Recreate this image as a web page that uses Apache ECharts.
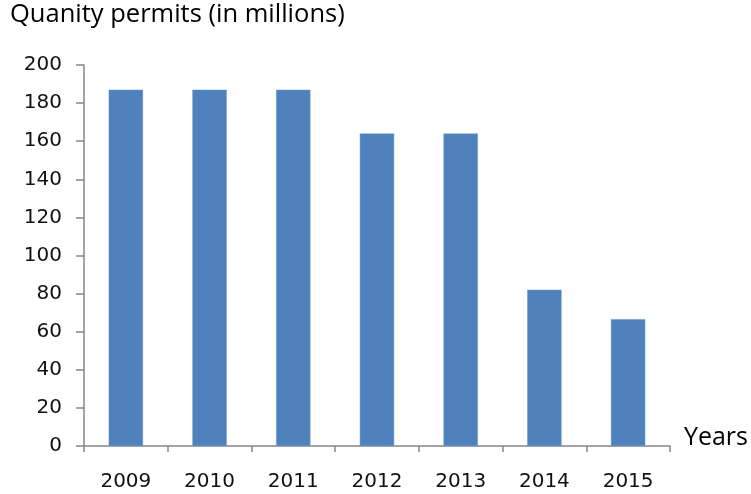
<!DOCTYPE html>
<html>
<head>
<meta charset="utf-8">
<script src="https://cdn.jsdelivr.net/npm/echarts@6/dist/echarts.min.js"></script>
<style>
  html, body { margin: 0; padding: 0; background: #fff; }
  #chart { width: 751px; height: 494px; }
</style>
</head>
<body>
<div id="chart"></div>
<script>
// Permit quantities per year, in millions
const years = ['2009', '2010', '2011', '2012', '2013', '2014', '2015'];
const permits = [187, 187, 187, 164, 164, 82, 66.5];
const yTicks = { min: 0, max: 200, step: 20 };

const axisGray = '#868686';
const chart = echarts.init(document.getElementById('chart'));
chart.setOption({
  animation: false,
  title: {
    text: 'Quanity permits (in millions)',
    left: 10,
    top: 2,
    padding: 0,
    textStyle: { fontFamily: 'Open Sans', fontSize: 25.5, fontWeight: 'normal', color: '#000' }
  },
  grid: { left: 84, right: 77, top: 65, bottom: 48 },
  xAxis: {
    type: 'category',
    data: years,
    name: 'Years',
    nameLocation: 'end',
    nameGap: 14,
    nameTextStyle: {
      fontFamily: 'Open Sans', fontSize: 25, color: '#000',
      verticalAlign: 'bottom', lineHeight: 17
    },
    axisLine: { lineStyle: { color: axisGray, width: 1.5 } },
    axisTick: { show: true, alignWithLabel: false, length: 6, lineStyle: { color: axisGray, width: 1.5 } },
    axisLabel: { fontFamily: 'DejaVu Sans', fontSize: 20, color: '#111', margin: 26 }
  },
  yAxis: {
    type: 'value',
    min: yTicks.min,
    max: yTicks.max,
    interval: yTicks.step,
    axisLine: { show: true, lineStyle: { color: axisGray, width: 1.5 } },
    axisTick: { show: true, inside: false, length: 8, lineStyle: { color: axisGray, width: 1.5 } },
    splitLine: { show: false },
    axisLabel: { fontFamily: 'DejaVu Sans', fontSize: 20, color: '#111', margin: 22 }
  },
  series: [{
    type: 'bar',
    data: permits,
    barWidth: '41%',
    itemStyle: { color: '#4F81BD', borderColor: '#6A97CC', borderWidth: 0.5 }
  }]
});
</script>
</body>
</html>
